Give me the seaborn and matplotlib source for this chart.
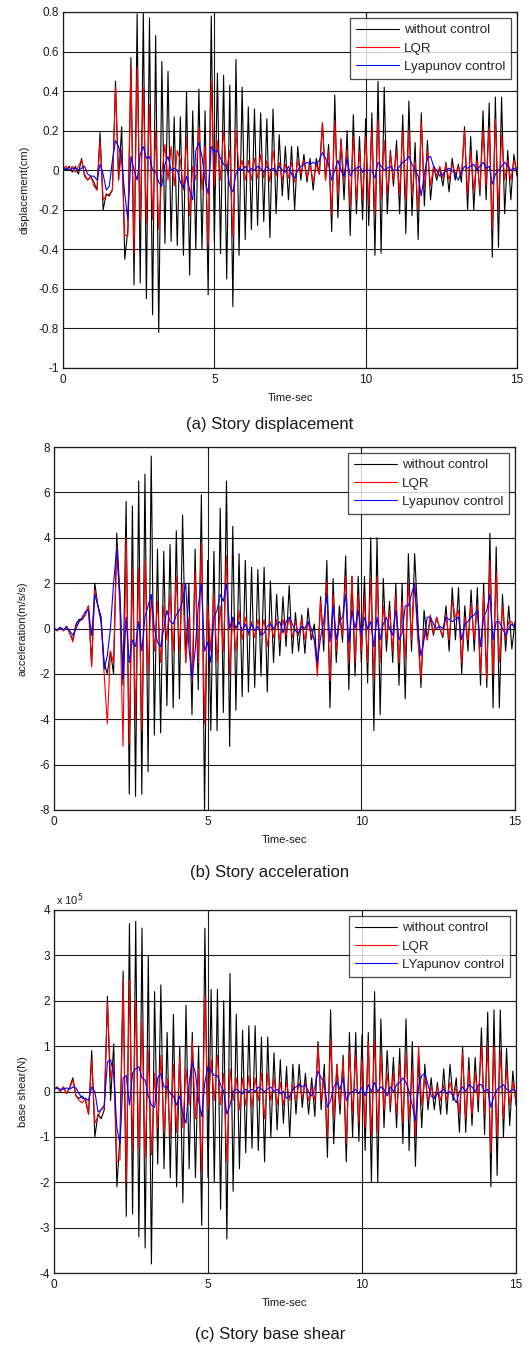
import numpy as np
import matplotlib
matplotlib.use('Agg')
import matplotlib.pyplot as plt
import seaborn as sns
from matplotlib.ticker import FixedLocator, FuncFormatter
from matplotlib.lines import Line2D

disp_without = [
    0.01, 0.00, 0.02, -0.01, 0.02, -0.02, 0.06, -0.03, -0.05, -0.03,
    -0.06, -0.10, 0.19, -0.20, -0.12, -0.13, -0.10, 0.45, -0.05, 0.22,
    -0.45, -0.30, 0.57, -0.58, 0.79, -0.57, 0.80, -0.65, 0.77, -0.73,
    0.68, -0.82, 0.55, -0.37, 0.50, -0.36, 0.27, -0.38, 0.27, -0.43,
    0.40, -0.53, 0.30, -0.40, 0.41, -0.40, 0.30, -0.63, 0.78, -0.36,
    0.49, -0.42, 0.48, -0.55, 0.43, -0.69, 0.56, -0.43, 0.42, -0.35,
    0.32, -0.30, 0.31, -0.28, 0.29, -0.26, 0.26, -0.34, 0.31, -0.22,
    0.18, -0.13, 0.12, -0.15, 0.12, -0.20, 0.12, -0.05, 0.08, -0.06,
    0.06, -0.10, 0.06, -0.02, 0.24, -0.05, 0.13, -0.31, 0.38, -0.24,
    0.16, -0.15, 0.20, -0.33, 0.28, -0.22, 0.17, -0.25, 0.26, -0.28,
    0.29, -0.43, 0.45, -0.42, 0.42, -0.22, 0.10, -0.08, 0.15, -0.22,
    0.28, -0.32, 0.35, -0.23, 0.14, -0.35, 0.29, -0.18, 0.15, -0.15,
    0.02, -0.05, 0.01, -0.08, 0.04, -0.11, 0.06, -0.05, 0.03, -0.06,
    0.22, -0.20, 0.17, -0.20, 0.10, -0.13, 0.30, -0.15, 0.34, -0.44,
    0.37, -0.39, 0.37, -0.22, 0.10, -0.15, 0.08, -0.03]
disp_lqr = [
    0.01, 0.02, 0.00, 0.02, -0.01, 0.02, 0.05, -0.02, -0.05, -0.03,
    -0.08, -0.10, 0.15, -0.15, -0.13, -0.12, -0.10, 0.42, -0.05, 0.10,
    -0.33, -0.33, 0.53, -0.42, 0.52, -0.25, 0.42, -0.27, 0.33, -0.25,
    0.20, -0.30, -0.02, 0.13, -0.05, 0.12, -0.08, 0.10, 0.05, -0.10,
    0.17, -0.23, 0.02, -0.05, 0.22, -0.10, 0.12, -0.38, 0.45, -0.08,
    0.15, -0.05, 0.20, 0.00, 0.10, -0.34, 0.20, 0.00, 0.05, -0.05,
    0.05, -0.05, 0.06, -0.04, 0.08, -0.04, 0.05, -0.06, 0.10, -0.03,
    0.04, -0.05, 0.03, -0.04, 0.04, -0.06, 0.05, -0.02, 0.05, -0.04,
    0.03, -0.06, 0.03, -0.02, 0.24, -0.05, 0.10, -0.22, 0.25, -0.12,
    0.15, -0.05, 0.10, -0.18, 0.17, -0.15, 0.10, -0.15, 0.17, -0.18,
    0.20, -0.22, 0.25, -0.15, 0.15, -0.12, 0.08, -0.05, 0.10, -0.12,
    0.20, -0.15, 0.20, -0.12, 0.04, -0.20, 0.24, -0.10, 0.10, -0.08,
    0.02, -0.03, 0.02, -0.04, 0.03, -0.05, 0.03, -0.02, 0.02, -0.03,
    0.20, -0.12, 0.10, -0.10, 0.05, -0.10, 0.20, -0.08, 0.22, -0.30,
    0.26, -0.20, 0.18, -0.05, 0.05, -0.05, 0.05, 0.00]
disp_lyap = [
    0.01, 0.01, 0.00, 0.01, 0.01, 0.00, 0.01, 0.02, -0.02, -0.03,
    -0.03, -0.05, 0.03, -0.02, -0.10, -0.08, 0.05, 0.15, 0.12, 0.05,
    -0.12, -0.25, 0.07, 0.00, -0.05, 0.08, 0.12, 0.06, 0.07, 0.00,
    -0.01, -0.06, -0.08, 0.03, 0.07, 0.00, 0.01, 0.00, -0.06, -0.09,
    -0.03, -0.10, -0.15, 0.10, 0.14, 0.07, -0.05, -0.12, 0.12, 0.09,
    0.10, 0.06, 0.03, 0.02, -0.08, -0.11, -0.02, 0.01, 0.00, 0.02,
    -0.01, 0.01, 0.00, 0.02, 0.01, -0.01, 0.02, 0.00, 0.01, -0.01,
    0.02, 0.00, -0.01, 0.02, -0.02, -0.04, 0.00, 0.02, 0.03, 0.04,
    0.03, 0.04, 0.03, 0.05, 0.09, 0.06, 0.03, -0.05, 0.00, 0.05,
    0.00, -0.03, 0.06, -0.03, 0.00, 0.01, 0.02, -0.01, 0.00, 0.00,
    0.00, -0.04, 0.04, 0.02, 0.00, 0.01, 0.02, 0.00, 0.00, 0.02,
    0.04, 0.05, 0.07, 0.03, 0.00, -0.03, -0.13, -0.02, 0.06, 0.07,
    0.02, 0.00, -0.03, -0.02, 0.00, 0.01, 0.00, -0.02, -0.05, -0.01,
    0.02, 0.01, 0.02, 0.03, 0.00, 0.02, 0.04, 0.01, 0.02, -0.07,
    -0.02, 0.00, 0.02, 0.04, 0.02, 0.00, 0.01, 0.00]

acc_without = [
    0.0, -0.1, 0.05, -0.1, 0.1, -0.2, -0.5, 0.2, 0.4, 0.4,
    0.6, 1.0, -1.6, 2.0, 1.0, 0.3, -1.5, -2.0, -1.0, -2.0,
    4.2, 1.5, -2.5, 5.6, -7.3, 5.4, -7.4, 6.5, -7.3, 6.8,
    -6.3, 7.6, -4.7, 3.5, -4.6, 3.4, -3.4, 3.7, -3.5, 4.3,
    -3.1, 5.0, -1.5, 2.0, -3.8, 3.5, -2.7, 5.9, -8.0, 3.0,
    -4.5, 3.4, -4.5, 5.3, -3.7, 6.5, -5.2, 4.5, -3.6, 3.3,
    -3.0, 3.0, -2.8, 2.7, -2.6, 2.6, -2.1, 2.7, -2.8, 2.1,
    -1.5, 1.5, -1.2, 1.4, -0.8, 1.9, -1.1, 0.7, -1.0, 0.6,
    -1.1, 0.9, -0.5, 0.2, -1.8, 1.4, -1.0, 3.0, -3.5, 2.2,
    -1.5, 1.0, -0.6, 3.2, -2.7, 2.3, -2.1, 2.3, -1.5, 2.3,
    -2.4, 4.0, -4.5, 4.0, -3.8, 2.2, -1.0, 1.2, -1.5, 2.0,
    -2.5, 2.0, -3.1, 3.3, -1.0, 3.3, 0.5, -2.6, 0.8, -0.5,
    0.5, -0.3, 0.5, 0.0, -0.4, 1.0, -1.0, 1.8, -0.5, 1.8,
    -2.0, 1.0, -1.0, 1.7, -1.0, 1.8, -2.5, 2.0, -2.6, 4.2,
    -3.5, 3.6, -3.5, 1.5, -1.0, 1.0, -0.9, 0.3]
acc_lqr = [
    0.0, -0.1, 0.05, -0.1, 0.1, -0.2, -0.6, 0.1, 0.3, 0.4,
    0.6, 1.0, -1.7, 1.7, 1.0, 0.5, -2.0, -4.2, -1.0, -1.5,
    3.6, 1.0, -5.2, 4.0, -5.1, 2.6, -4.0, 2.7, -4.5, 3.0,
    -2.0, 1.5, -1.0, 1.2, -1.5, 1.0, -0.5, 1.5, -1.0, 2.3,
    -1.0, 2.0, -1.5, 0.5, -2.3, 2.5, -1.5, 3.8, -4.2, 1.0,
    -1.0, 1.5, -1.5, 1.0, -1.0, 3.2, -2.0, 0.5, -1.0, 0.8,
    -0.5, 0.5, -0.3, 0.3, -0.4, 0.4, -0.3, 0.4, -0.8, 0.3,
    -0.4, 0.4, -0.5, 0.4, -0.3, 0.5, -0.4, 0.3, -0.3, 0.4,
    -0.5, 0.3, -0.3, -0.5, -2.1, 1.2, -0.5, 2.1, -2.3, 1.5,
    -1.0, 0.5, -0.3, 2.3, -1.5, 2.3, -1.5, 1.5, -1.0, 1.3,
    -1.5, 2.2, -2.2, 2.3, -1.5, 1.0, -0.5, 0.8, -1.0, 1.5,
    -1.5, 1.2, -1.3, 2.0, -0.5, 2.0, -0.5, -2.2, 0.0, -0.5,
    0.6, -0.2, 0.5, 0.0, -0.3, 0.6, -0.5, 1.2, 0.5, 0.8,
    -1.5, 0.5, -0.5, 1.0, -0.5, 1.0, -2.0, 1.5, -2.2, 3.0,
    -2.0, 2.5, -1.5, 1.0, -0.5, 0.3, 0.3, 0.0]
acc_lyap = [
    0.0, -0.05, 0.05, -0.05, 0.05, -0.1, -0.3, 0.0, 0.3, 0.5,
    0.75, 0.8, -0.3, 1.5, 1.0, 0.5, -1.8, -1.2, 0.0, 2.0,
    3.5, 1.5, -2.2, 0.5, -1.5, -0.5, -0.8, 0.3, -1.0, 0.5,
    1.0, 1.5, 0.0, -0.6, -0.8, 0.0, 0.8, 0.3, 0.2, 0.6,
    0.8, 1.2, 2.0, -0.8, -2.2, -1.0, 1.0, 2.0, -1.0, -0.6,
    -1.5, 0.5, 0.8, 1.5, 1.2, 2.0, 0.0, 0.5, 0.0, 0.3,
    -0.1, 0.2, -0.2, 0.2, -0.1, 0.1, -0.3, -0.2, 0.1, 0.2,
    0.0, 0.2, 0.3, -0.2, 0.3, 0.5, 0.2, -0.1, -0.2, 0.1,
    0.0, 0.3, 0.0, -0.5, -1.5, -0.4, 0.3, 1.5, -0.6, 1.0,
    -0.5, 0.3, 0.5, 1.5, -0.6, 0.8, 0.0, 0.8, -0.3, 0.5,
    0.0, 0.3, -0.8, 0.5, -0.5, 0.2, 0.5, 0.0, -0.3, 0.8,
    -0.5, -0.2, 1.0, 1.0, 1.5, 2.0, 0.0, -1.2, -0.5, 0.5,
    0.5, 0.2, 0.0, 0.1, 0.0, 0.5, 0.4, 0.3, 0.4, 0.5,
    -0.5, 0.2, 0.3, 0.5, 0.6, 0.8, -0.8, 0.5, 0.8, 1.5,
    -0.5, 0.3, 0.3, 0.0, -0.3, 0.0, 0.2, 0.0]

# base shear, in units of 1e5 N
shear_without = [
    0.05, 0.1, 0.0, 0.1, -0.05, 0.1, 0.3, -0.1, -0.15, -0.1,
    -0.2, -0.5, 0.9, -1.0, -0.5, -0.6, -0.4, 2.1, -0.2, 1.05,
    -2.1, -1.0, 2.65, -2.75, 3.7, -2.7, 3.75, -3.2, 3.6, -3.45,
    3.0, -3.8, 2.2, -1.6, 2.35, -1.7, 1.3, -1.9, 1.7, -2.1,
    1.0, -2.45, 1.9, -1.7, 1.3, -1.9, 1.0, -2.95, 3.6, -1.9,
    2.25, -2.0, 2.25, -2.6, 2.0, -3.25, 2.6, -2.2, 1.7, -1.7,
    1.35, -1.35, 1.45, -1.25, 1.45, -1.3, 1.2, -1.55, 1.2, -1.0,
    0.85, -0.85, 0.7, -0.7, 0.55, -1.0, 0.6, -0.5, 0.6, -0.35,
    0.4, -0.5, 0.3, -0.55, 1.1, -0.4, 0.6, -1.45, 1.8, -1.15,
    0.6, -0.5, 0.8, -1.55, 1.3, -1.0, 1.3, -1.1, 1.25, -1.3,
    1.3, -2.0, 2.2, -2.0, 1.6, -0.8, 0.9, -0.45, 0.75, -0.8,
    0.95, -1.15, 1.6, -1.3, 1.1, -1.65, 0.8, -0.8, 0.6, -0.4,
    0.3, -0.4, 0.2, -0.5, 0.5, -0.5, 0.6, -0.2, 0.3, -0.9,
    1.0, -0.9, 0.75, -0.75, 0.75, -0.45, 1.4, -0.95, 1.75, -2.1,
    1.8, -1.85, 1.8, -1.0, 0.95, -0.75, 0.45, -0.3]
shear_lqr = [
    0.05, 0.08, 0.0, 0.1, -0.05, 0.08, 0.25, -0.1, -0.2, -0.25,
    -0.15, -0.5, 0.7, -0.7, -0.55, -0.4, -0.35, 1.95, 0.3, 0.6,
    -1.55, -1.5, 2.45, -2.0, 2.45, -1.3, 2.0, -1.25, 1.55, -1.45,
    0.9, -1.4, 0.4, -0.8, 0.8, -0.9, 0.3, -1.0, 0.6, -0.9,
    0.75, -0.8, 0.5, -0.3, 1.1, -0.6, 0.5, -1.8, 2.1, -0.4,
    0.7, -0.2, 0.8, -0.3, 0.4, -1.55, 0.5, -0.2, 0.3, -0.4,
    0.3, -0.3, 0.35, -0.35, 0.3, -0.2, 0.4, -0.6, 0.4, -0.2,
    0.3, -0.3, 0.2, -0.3, 0.2, -0.2, 0.15, -0.2, 0.2, -0.15,
    0.2, -0.2, 0.1, -0.2, 1.0, -0.2, 0.3, -1.0, 1.15, -0.6,
    0.6, -0.3, 0.7, -1.15, 0.9, -0.5, 0.8, -0.7, 0.7, -0.8,
    1.1, -1.0, 1.15, -0.9, 0.8, -0.4, 0.4, -0.3, 0.4, -0.5,
    0.6, -0.7, 0.85, -0.6, 0.5, -1.0, 1.0, -0.3, 0.3, -0.2,
    0.1, -0.15, 0.1, -0.2, 0.15, -0.2, 0.2, -0.1, 0.1, -0.5,
    0.85, -0.6, 0.5, -0.5, 0.4, -0.2, 1.0, -0.5, 1.0, -1.35,
    1.0, -1.0, 0.9, -0.6, 0.5, -0.3, 0.2, -0.2]
shear_lyap = [
    0.05, 0.08, 0.05, 0.05, 0.08, 0.05, 0.1, 0.08, -0.05, -0.15,
    -0.15, -0.2, 0.1, 0.0, -0.45, -0.4, -0.3, 0.65, 0.7, 0.4,
    -0.8, -1.15, 0.3, 0.35, -0.3, 0.4, 0.5, 0.55, 0.3, 0.25,
    -0.1, -0.3, -0.35, 0.3, 0.4, 0.1, 0.1, -0.05, -0.1, -0.3,
    -0.1, -0.5, -0.7, 0.2, 0.65, 0.4, -0.2, -0.55, 0.2, 0.55,
    0.45, 0.35, 0.35, 0.15, 0.0, -0.5, -0.3, 0.0, 0.05, 0.0,
    -0.05, 0.05, 0.0, 0.05, 0.0, 0.1, 0.05, 0.0, 0.05, 0.1,
    0.0, 0.05, -0.05, 0.0, -0.15, -0.1, 0.05, 0.1, 0.15, 0.1,
    0.15, 0.0, -0.1, 0.1, 0.45, 0.3, 0.2, -0.35, -0.2, 0.1,
    0.2, 0.05, 0.3, -0.2, -0.05, 0.0, 0.05, -0.05, 0.1, -0.1,
    0.15, 0.0, 0.2, 0.0, 0.1, 0.05, -0.1, 0.1, 0.0, 0.15,
    0.2, 0.3, 0.2, 0.0, -0.3, -0.65, 0.1, 0.35, 0.4, 0.15,
    -0.1, -0.15, -0.05, 0.0, 0.05, -0.05, 0.0, -0.1, -0.25, 0.0,
    0.1, 0.0, 0.15, 0.1, 0.0, 0.15, 0.15, 0.0, 0.05, -0.35,
    -0.1, 0.05, 0.1, 0.15, 0.05, 0.0, 0.05, 0.0]

t_end = 15.0
x_ticks = [0, 5, 10, 15]
disp_ticks = [-1, -0.8, -0.6, -0.4, -0.2, 0, 0.2, 0.4, 0.6, 0.8]
acc_ticks = [-8, -6, -4, -2, 0, 2, 4, 6, 8]
shear_ticks = [-4, -3, -2, -1, 0, 1, 2, 3, 4]

# ---------------- styling ----------------
sns.set_style('white')
plt.rcParams['font.family'] = ['Liberation Sans', 'DejaVu Sans']
plt.rcParams['axes.unicode_minus'] = False

fig = plt.figure(figsize=(5.31, 13.46), dpi=100)
W, H = 531.0, 1346.0

def rect(l, r, t, b):
    return [l / W, 1 - b / H, (r - l) / W, (b - t) / H]

panels = [
    dict(rect=rect(63, 517, 12, 368), series=(disp_without, disp_lqr, disp_lyap),
         labels=('without control', 'LQR', 'Lyapunov control'),
         ylim=(-1, 0.8), yticks=disp_ticks, ylabel='displacement(cm)', ylx=-0.073,
         caption='(a) Story displacement', cap_y=425),
    dict(rect=rect(54, 515, 447, 810), series=(acc_without, acc_lqr, acc_lyap),
         labels=('without control', 'LQR', 'Lyapunov control'),
         ylim=(-8, 8), yticks=acc_ticks, ylabel='acceleration(m/s/s)', ylx=-0.057,
         caption='(b) Story acceleration', cap_y=872),
    dict(rect=rect(54, 516, 910, 1273), series=(shear_without, shear_lqr, shear_lyap),
         labels=('without control', 'LQR', 'LYapunov control'),
         ylim=(-4, 4), yticks=shear_ticks, ylabel='base shear(N)', ylx=-0.057,
         caption='(c) Story base shear', cap_y=1335),
]
colors = ['#000000', '#ff0000', '#0000ff']

def fmt(v, pos):
    v = round(v, 6)
    if v == 0:
        return '0'
    return f'{v:g}'

for i, p in enumerate(panels):
    ax = fig.add_axes(p['rect'])
    for vals, c, lab in zip(p['series'], colors, p['labels']):
        t = np.linspace(0, t_end, len(vals))
        sns.lineplot(x=t, y=vals, color=c, lw=0.8, ax=ax, estimator=None,
                     sort=False, legend=False)
    ax.set_xlim(0, 15)
    ax.set_ylim(*p['ylim'])
    ax.xaxis.set_major_locator(FixedLocator(x_ticks))
    ax.yaxis.set_major_locator(FixedLocator(p['yticks']))
    ax.yaxis.set_major_formatter(FuncFormatter(fmt))
    ax.xaxis.set_major_formatter(FuncFormatter(fmt))
    ax.grid(True, color='#1a1a1a', lw=0.8)
    ax.set_axisbelow(True)
    for s in ax.spines.values():
        s.set_color('#1a1a1a')
        s.set_linewidth(0.9)
    ax.tick_params(direction='in', length=3, width=0.8, labelsize=8.5,
                   colors='#1a1a1a', pad=3, top=True, right=True)
    ax.tick_params(axis='x', pad=4)
    ax.set_xlabel('Time-sec', fontsize=8, color='#1a1a1a')
    ax.xaxis.set_label_coords(0.5, -0.07)
    ax.set_ylabel(p['ylabel'], fontsize=8, color='#1a1a1a')
    ax.yaxis.set_label_coords(p['ylx'], 0.5)
    handles = [Line2D([0], [0], color=c, lw=0.8) for c in colors]
    leg = ax.legend(handles, p['labels'], loc='upper right', fontsize=9.6,
                    frameon=True, fancybox=False, handlelength=3.2,
                    handletextpad=0.35, labelspacing=0.45, borderpad=0.45,
                    borderaxespad=0.45)
    leg.get_frame().set_edgecolor('#1a1a1a')
    leg.get_frame().set_linewidth(0.9)
    fig.text(270 / W, 1 - p['cap_y'] / H, p['caption'], ha='center', va='center',
             fontsize=12, color='#1a1a1a')
    if i == 2:
        ax.text(0.005, 1.006, r'x 10$^5$', transform=ax.transAxes, ha='left',
                va='bottom', fontsize=8, color='#1a1a1a')

fig.savefig('out.png', dpi=100)
